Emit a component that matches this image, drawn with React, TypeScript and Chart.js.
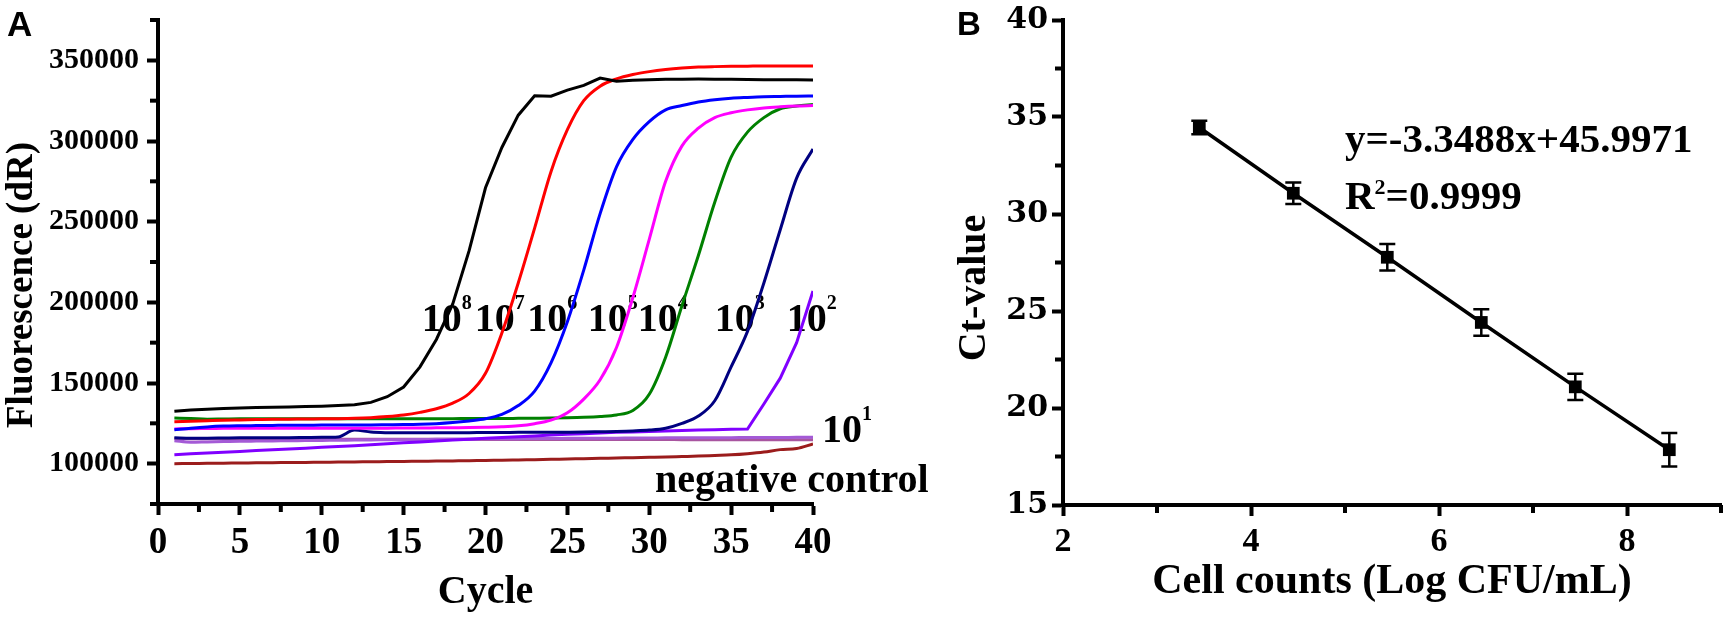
import { useEffect, useRef } from 'react';
import { Chart, registerables } from 'chart.js';

Chart.register(...registerables);

const SERIF = '"Liberation Serif", "Times New Roman", serif';
const SANS = '"Liberation Sans", Arial, sans-serif';

// ---- panel A: amplification curves ----
const CYCLES = [
  1, 2, 3, 4, 5, 6, 7, 8, 9, 10, 11, 12, 13, 14, 15, 16, 17, 18, 19, 20,
  21, 22, 23, 24, 25, 26, 27, 28, 29, 30, 31, 32, 33, 34, 35, 36, 37, 38, 39, 40,
];

const FLUO_1E8 = [
  132500, 133300, 133800, 134200, 134500, 134800, 135000, 135200, 135400, 135600,
  136000, 136500, 138000, 141500, 147500, 160000, 177000, 199000, 232000, 271000,
  296000, 316000, 328000, 327800, 331500, 334500, 339000, 337000, 337600, 338000,
  338200, 338300, 338400, 338300, 338200, 338100, 338000, 337900, 337900, 337800,
];
const FLUO_1E7 = [
  126000, 126300, 126600, 126900, 127100, 127300, 127500, 127600, 127700, 127800,
  127900, 128100, 128500, 129200, 130200, 131800, 134000, 137500, 143500, 156000,
  181000, 212000, 246000, 281000, 307000, 325000, 334000, 338500, 341200, 343000,
  344300, 345200, 345800, 346100, 346300, 346400, 346500, 346500, 346500, 346500,
];
const FLUO_1E6 = [
  121000, 122000, 122800, 123300, 123500, 123600, 123700, 123800, 123800, 123900,
  123900, 124000, 124000, 124100, 124200, 124400, 124800, 125500, 126500, 127800,
  130500, 136000, 145000, 162500, 188000, 220000, 255000, 284000, 301000, 312000,
  319300, 322000, 324200, 325600, 326500, 327000, 327400, 327600, 327800, 327900,
];
const FLUO_1E5 = [
  121500, 121700, 121800, 121900, 122000, 122000, 122000, 122000, 122000, 122000,
  122000, 122000, 122000, 122000, 122100, 122100, 122200, 122300, 122400, 122600,
  122900, 123500, 124800, 127000, 131500, 140000, 152000, 172000, 203000, 239000,
  275000, 297000, 308000, 314500, 317500, 319300, 320500, 321200, 321700, 322000,
];
const FLUO_1E4 = [
  128300, 128000, 127600, 127700, 127800, 127800, 127800, 127800, 127800, 127800,
  127800, 127800, 127800, 127800, 127800, 127800, 127900, 127900, 128000, 128000,
  128000, 128100, 128200, 128300, 128500, 128800, 129300, 130200, 133000, 143000,
  166000, 198000, 229000, 262000, 290000, 305500, 314500, 320000, 321700, 322700,
];
const FLUO_1E3 = [
  116000, 115800, 115800, 115900, 116000, 116000, 116100, 116100, 116200, 116300,
  116500, 120800, 119600, 119200, 119100, 119100, 119100, 119200, 119200, 119300,
  119300, 119400, 119400, 119500, 119500, 119600, 119800, 120000, 120300, 120800,
  122000, 125000, 129500, 139000, 160000, 182000, 212000, 245000, 277000, 295000,
];
const FLUO_1E2 = [
  105600, 106100, 106600, 107100, 107600, 108100, 108600, 109100, 109600, 110100,
  110600, 111100, 111700, 112300, 112900, 113500, 114000, 114600, 115100, 115700,
  116200, 116700, 117200, 117700, 118200, 118600, 119000, 119400, 119700, 120000,
  120300, 120600, 120900, 121100, 121300, 121500, 137000, 153000, 175000, 207000,
];
const FLUO_1E1 = [
  114200, 113300, 113500, 113700, 113900, 114000, 114100, 114200, 114300, 114400,
  114500, 114600, 114700, 114800, 114900, 115000, 115100, 115200, 115300, 115400,
  115500, 115500, 115600, 115600, 115700, 115700, 115800, 115800, 115900, 115900,
  116000, 116000, 116000, 116100, 116100, 116200, 116200, 116200, 116300, 116300,
];
const FLUO_1E1_REP = [
  115600, 115500, 115500, 115400, 115400, 115400, 115300, 115300, 115300, 115200,
  115200, 115200, 115200, 115100, 115100, 115100, 115100, 115100, 115000, 115000,
  115000, 115000, 115000, 115000, 115000, 115000, 115000, 115000, 115000, 115000,
  115000, 114900, 114900, 114900, 114900, 114900, 114900, 114900, 114900, 114900,
];
const FLUO_NEG = [
  100000, 100100, 100200, 100300, 100400, 100500, 100600, 100700, 100800, 100900,
  101000, 101100, 101200, 101300, 101400, 101500, 101600, 101700, 101800, 102000,
  102100, 102300, 102500, 102700, 102900, 103100, 103300, 103500, 103700, 103900,
  104100, 104400, 104700, 105100, 105500, 106200, 107200, 108700, 109400, 112200,
];

const A_X_TICKS = [0, 5, 10, 15, 20, 25, 30, 35, 40];
const A_X_MINOR = [2.5, 7.5, 12.5, 17.5, 22.5, 27.5, 32.5, 37.5];
const A_Y_TICKS = [100000, 150000, 200000, 250000, 300000, 350000];
const A_Y_MINOR = [75000, 125000, 175000, 225000, 275000, 325000, 375000];

// curve annotations: "10^n" anchored at (cycle, fluorescence)
const CURVE_LABEL_EXP = ['8', '7', '6', '5', '4', '3', '2', '1'];
const CURVE_LABEL_CYCLE = [16.1, 19.35, 22.55, 26.25, 29.3, 34.0, 38.4, 40.55];
const CURVE_LABEL_FLUO = [182500, 182500, 182500, 182500, 182500, 182500, 182500, 113700];
const NEG_LABEL = 'negative control';
const NEG_LABEL_CYCLE = 30.35;
const NEG_LABEL_FLUO = 82200;

const CURVES = [
  { label: '10^8', values: FLUO_1E8, color: '#000000', smooth: false },
  { label: '10^7', values: FLUO_1E7, color: '#ff0000', smooth: true },
  { label: '10^6', values: FLUO_1E6, color: '#0000ff', smooth: true },
  { label: '10^5', values: FLUO_1E5, color: '#ff00ff', smooth: true },
  { label: '10^4', values: FLUO_1E4, color: '#008000', smooth: true },
  { label: '10^3', values: FLUO_1E3, color: '#000080', smooth: true },
  { label: '10^2', values: FLUO_1E2, color: '#8000ff', smooth: false },
  { label: '10^1', values: FLUO_1E1, color: '#a45ad6', smooth: true },
  { label: '10^1 rep', values: FLUO_1E1_REP, color: '#a8559f', smooth: true },
  { label: 'negative control', values: FLUO_NEG, color: '#9b1c1c', smooth: true },
];

// ---- panel B: standard curve ----
const B_LOG_CFU = [3.45, 4.45, 5.45, 6.45, 7.45, 8.45];
const B_CT = [34.46, 31.07, 27.77, 24.41, 21.09, 17.85];
const B_CT_SD = [0.35, 0.55, 0.68, 0.68, 0.68, 0.86];
const B_X_TICKS = [2, 4, 6, 8];
const B_X_MINOR = [3, 5, 7, 9];
const B_Y_TICKS = [15, 20, 25, 30, 35, 40];
const B_Y_MINOR = [17.5, 22.5, 27.5, 32.5, 37.5];
const FIT_TEXT = 'y=-3.3488x+45.9971';
const R2_TEXT = '=0.9999';
const FIT_LABEL_X = 5.0;
const FIT_LABEL_Y = [33.2, 30.25];

function drawMinorTicks(chart: any, xs: number[], ys: number[]) {
  const { ctx, chartArea, scales } = chart;
  ctx.save();
  ctx.strokeStyle = '#000';
  ctx.lineWidth = 4;
  xs.forEach((v) => {
    const px = scales.x.getPixelForValue(v);
    ctx.beginPath();
    ctx.moveTo(px, chartArea.bottom);
    ctx.lineTo(px, chartArea.bottom + 8);
    ctx.stroke();
  });
  ys.forEach((v) => {
    const py = scales.y.getPixelForValue(v);
    ctx.beginPath();
    ctx.moveTo(chartArea.left, py);
    ctx.lineTo(chartArea.left - 8, py);
    ctx.stroke();
  });
  ctx.restore();
}

function drawPower(ctx: CanvasRenderingContext2D, x: number, y: number, base: string, exp: string, size: number, expSize: number, rise: number) {
  ctx.font = `bold ${size}px ${SERIF}`;
  ctx.fillText(base, x, y);
  const w = ctx.measureText(base).width;
  ctx.font = `bold ${expSize}px ${SERIF}`;
  ctx.fillText(exp, x + w, y - rise);
}

function drawVerticalTitle(ctx: CanvasRenderingContext2D, text: string, x: number, y: number, size: number) {
  ctx.save();
  ctx.translate(x, y);
  ctx.rotate(-Math.PI / 2);
  ctx.font = `bold ${size}px ${SERIF}`;
  ctx.textAlign = 'center';
  ctx.textBaseline = 'alphabetic';
  ctx.fillText(text, 0, 0);
  ctx.restore();
}

const axisBase = {
  border: { display: true, color: '#000', width: 4 },
  grid: { display: true, drawOnChartArea: false, drawTicks: true, tickLength: 11, tickWidth: 4, tickColor: '#000' },
};

const panelADecor = {
  id: 'panelADecor',
  beforeDatasetsDraw(chart: any) {
    const { ctx, scales: { x, y } } = chart;
    ctx.save();
    ctx.fillStyle = '#000';
    ctx.textAlign = 'left';
    ctx.textBaseline = 'alphabetic';
    CURVE_LABEL_EXP.forEach((e, i) => {
      drawPower(ctx, x.getPixelForValue(CURVE_LABEL_CYCLE[i]), y.getPixelForValue(CURVE_LABEL_FLUO[i]), '10', e, 40, 20, 22);
    });
    ctx.font = `bold 40px ${SERIF}`;
    ctx.fillText(NEG_LABEL, x.getPixelForValue(NEG_LABEL_CYCLE), y.getPixelForValue(NEG_LABEL_FLUO));
    ctx.restore();
  },
  afterDraw(chart: any) {
    const { ctx, chartArea } = chart;
    drawMinorTicks(chart, A_X_MINOR, A_Y_MINOR);
    ctx.save();
    ctx.fillStyle = '#000';
    ctx.font = `bold 40px ${SERIF}`;
    ctx.textAlign = 'center';
    ctx.textBaseline = 'alphabetic';
    ctx.fillText('Cycle', (chartArea.left + chartArea.right) / 2, 603);
    drawVerticalTitle(ctx, 'Fluorescence (dR)', 32, 285, 37);
    ctx.font = `bold 35px ${SANS}`;
    ctx.textAlign = 'left';
    ctx.fillText('A', 7, 36);
    ctx.restore();
  },
};

const panelBDecor = {
  id: 'panelBDecor',
  afterDatasetsDraw(chart: any) {
    const { ctx, scales: { x, y } } = chart;
    ctx.save();
    ctx.strokeStyle = '#000';
    ctx.lineWidth = 2.5;
    B_LOG_CFU.forEach((v, i) => {
      const px = x.getPixelForValue(v);
      const top = y.getPixelForValue(B_CT[i] + B_CT_SD[i]);
      const bot = y.getPixelForValue(B_CT[i] - B_CT_SD[i]);
      ctx.beginPath();
      ctx.moveTo(px, top);
      ctx.lineTo(px, bot);
      ctx.moveTo(px - 8, top);
      ctx.lineTo(px + 8, top);
      ctx.moveTo(px - 8, bot);
      ctx.lineTo(px + 8, bot);
      ctx.stroke();
    });
    ctx.restore();
  },
  afterDraw(chart: any) {
    const { ctx, chartArea, scales: { x, y } } = chart;
    drawMinorTicks(chart, B_X_MINOR, B_Y_MINOR);
    ctx.save();
    ctx.fillStyle = '#000';
    ctx.textAlign = 'left';
    ctx.textBaseline = 'alphabetic';
    const lx = x.getPixelForValue(FIT_LABEL_X);
    ctx.font = `bold 41px ${SERIF}`;
    ctx.fillText(FIT_TEXT, lx, y.getPixelForValue(FIT_LABEL_Y[0]));
    const ry = y.getPixelForValue(FIT_LABEL_Y[1]);
    ctx.fillText('R', lx, ry);
    const rw = ctx.measureText('R').width;
    ctx.font = `bold 22px ${SERIF}`;
    ctx.fillText('2', lx + rw, ry - 15);
    const sw = ctx.measureText('2').width;
    ctx.font = `bold 41px ${SERIF}`;
    ctx.fillText(R2_TEXT, lx + rw + sw, ry);
    ctx.font = `bold 42px ${SERIF}`;
    ctx.textAlign = 'center';
    ctx.fillText('Cell counts (Log CFU/mL)', (chartArea.left + chartArea.right) / 2, 593);
    drawVerticalTitle(ctx, 'Ct-value', 55, 288, 40);
    ctx.font = `bold 33px ${SANS}`;
    ctx.textAlign = 'left';
    ctx.fillText('B', 27, 35);
    ctx.restore();
  },
};

function PanelA() {
  const canvasRef = useRef<HTMLCanvasElement>(null);

  useEffect(() => {
    if (!canvasRef.current) return;
    const chart = new Chart(canvasRef.current, {
      type: 'line',
      data: {
        datasets: CURVES.map((c) => ({
          label: c.label,
          data: CYCLES.map((cy, i) => ({ x: cy, y: c.values[i] })),
          borderColor: c.color,
          borderWidth: 3,
          pointRadius: 0,
          fill: false,
          tension: 0,
          cubicInterpolationMode: c.smooth ? 'monotone' : 'default',
        })),
      },
      options: {
        responsive: false,
        animation: false,
        events: [],
        layout: { padding: { left: 0, top: 20, right: 137, bottom: 0 } },
        plugins: { legend: { display: false }, tooltip: { enabled: false } },
        scales: {
          x: {
            ...axisBase,
            type: 'linear',
            min: 0,
            max: 40,
            afterBuildTicks: (s: any) => { s.ticks = A_X_TICKS.map((v) => ({ value: v })); },
            afterFit: (s: any) => { s.height = 116; s.paddingLeft = 0; s.paddingRight = 0; },
            ticks: { color: '#000', font: { family: SERIF, size: 37, weight: 'bold' }, padding: 6, maxRotation: 0, autoSkip: false, callback: (v: any) => String(v) },
          },
          y: {
            ...axisBase,
            type: 'linear',
            min: 75000,
            max: 375000,
            afterBuildTicks: (s: any) => { s.ticks = A_Y_TICKS.map((v) => ({ value: v })); },
            afterFit: (s: any) => { s.width = 158; s.paddingTop = 0; s.paddingBottom = 0; },
            ticks: { color: '#000', font: { family: SERIF, size: 30, weight: 'bold' }, padding: 8, autoSkip: false, callback: (v: any) => String(v) },
          },
        },
      } as any,
      plugins: [panelADecor],
    });
    return () => chart.destroy();
  }, []);

  return <canvas ref={canvasRef} width={950} height={620} style={{ position: 'absolute', left: 0, top: 0, width: 950, height: 620 }} />;
}

function PanelB() {
  const canvasRef = useRef<HTMLCanvasElement>(null);

  useEffect(() => {
    if (!canvasRef.current) return;
    const chart = new Chart(canvasRef.current, {
      type: 'scatter',
      data: {
        datasets: [{
          label: 'Ct-value',
          data: B_LOG_CFU.map((v, i) => ({ x: v, y: B_CT[i] })),
          showLine: true,
          borderColor: '#000',
          borderWidth: 3.5,
          pointStyle: 'rect',
          pointRadius: 9,
          pointBackgroundColor: '#000',
          pointBorderColor: '#000',
          pointBorderWidth: 0,
        }],
      },
      options: {
        responsive: false,
        animation: false,
        events: [],
        layout: { padding: { left: 0, top: 20, right: 7, bottom: 0 } },
        plugins: { legend: { display: false }, tooltip: { enabled: false } },
        scales: {
          x: {
            ...axisBase,
            type: 'linear',
            min: 2,
            max: 9,
            afterBuildTicks: (s: any) => { s.ticks = B_X_TICKS.map((v) => ({ value: v })); },
            afterFit: (s: any) => { s.height = 115; s.paddingLeft = 0; s.paddingRight = 0; },
            ticks: { color: '#000', font: { family: SERIF, size: 34, weight: 'bold' }, padding: 6, maxRotation: 0, autoSkip: false, callback: (v: any) => String(v) },
          },
          y: {
            ...axisBase,
            type: 'linear',
            min: 15,
            max: 40,
            afterBuildTicks: (s: any) => { s.ticks = B_Y_TICKS.map((v) => ({ value: v })); },
            afterFit: (s: any) => { s.width = 133; s.paddingTop = 0; s.paddingBottom = 0; },
            ticks: { color: '#000', font: { family: '"DejaVu Serif", serif', size: 30, weight: 'bold' }, padding: 4, autoSkip: false, callback: (v: any) => String(v) },
          },
        },
      } as any,
      plugins: [panelBDecor],
    });
    return () => chart.destroy();
  }, []);

  return <canvas ref={canvasRef} width={800} height={620} style={{ position: 'absolute', left: 930, top: 0, width: 800, height: 620 }} />;
}

export default function App() {
  return (
    <div style={{ position: 'fixed', left: 0, top: 0, width: 1730, height: 620, background: '#fff', overflow: 'hidden' }}>
      <PanelA />
      <PanelB />
    </div>
  );
}
